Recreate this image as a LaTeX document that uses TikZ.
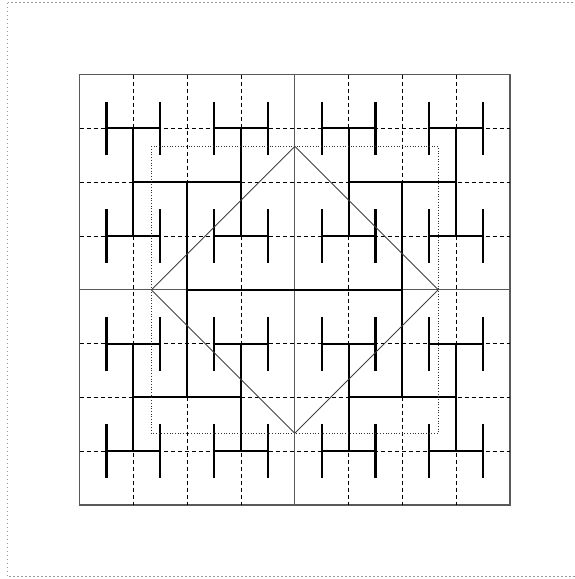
\documentclass[tikz,border=0pt]{standalone}
\begin{document}
\begin{tikzpicture}[x=1pt,y=-1pt,
  gridsolid/.style={solid,line width=1.1pt,draw=black!65},
  griddash/.style={line width=0.8pt,draw=black,dash pattern=on 4pt off 3pt},
  htree/.style={solid,line width=2.1pt,draw=black},
  inner/.style={line width=0.7pt,draw=black!80,dotted},
  diam/.style={solid,line width=0.9pt,draw=black!75,line join=miter},
  frame/.style={line width=1.2pt,draw=black!40,dash pattern=on 1.4pt off 2.6pt}]
\useasboundingbox (0,0) rectangle (575,579);
\begin{scope}[shift={(79.6,74.6)},x=53.8pt,y=-53.8pt]
  % solid lines
  \draw[gridsolid] (0,0) rectangle (8,8);
  \draw[gridsolid] (4,0) -- (4,8);
  \draw[gridsolid] (0,4) -- (8,4);
  % dashed grid
  \foreach \i in {1,2,3,5,6,7}{
    \draw[griddash] (\i,0) -- (\i,8);
    \draw[griddash] (0,\i) -- (8,\i);
  }
  % H-tree
  \draw[htree]
    (2,4) -- (6,4)
    (2,2) -- (2,6)
    (6,2) -- (6,6)
    (1,2) -- (3,2)
    (1,6) -- (3,6)
    (5,2) -- (7,2)
    (5,6) -- (7,6);
  \foreach \hx in {1,3,5,7}{
    \draw[htree] (\hx,1) -- (\hx,3) (\hx,5) -- (\hx,7);
    \foreach \hy in {1,3,5,7}{
      \draw[htree] (\hx-0.5,\hy) -- (\hx+0.5,\hy)
        (\hx-0.5,\hy-0.5) -- (\hx-0.5,\hy+0.5)
        (\hx+0.5,\hy-0.5) -- (\hx+0.5,\hy+0.5);
    }
  }
  % dotted inner square
  \draw[inner] (4/3,4/3) rectangle (20/3,20/3);
  % diamond
  \draw[diam] (4,4/3) -- (20/3,4) -- (4,20/3) -- (4/3,4) -- cycle;
\end{scope}
\begin{scope}
\clip (0,0) rectangle (575,579);
\draw[frame] (7.5,2.7) rectangle (590,576.8);
\end{scope}
\end{tikzpicture}
\end{document}
